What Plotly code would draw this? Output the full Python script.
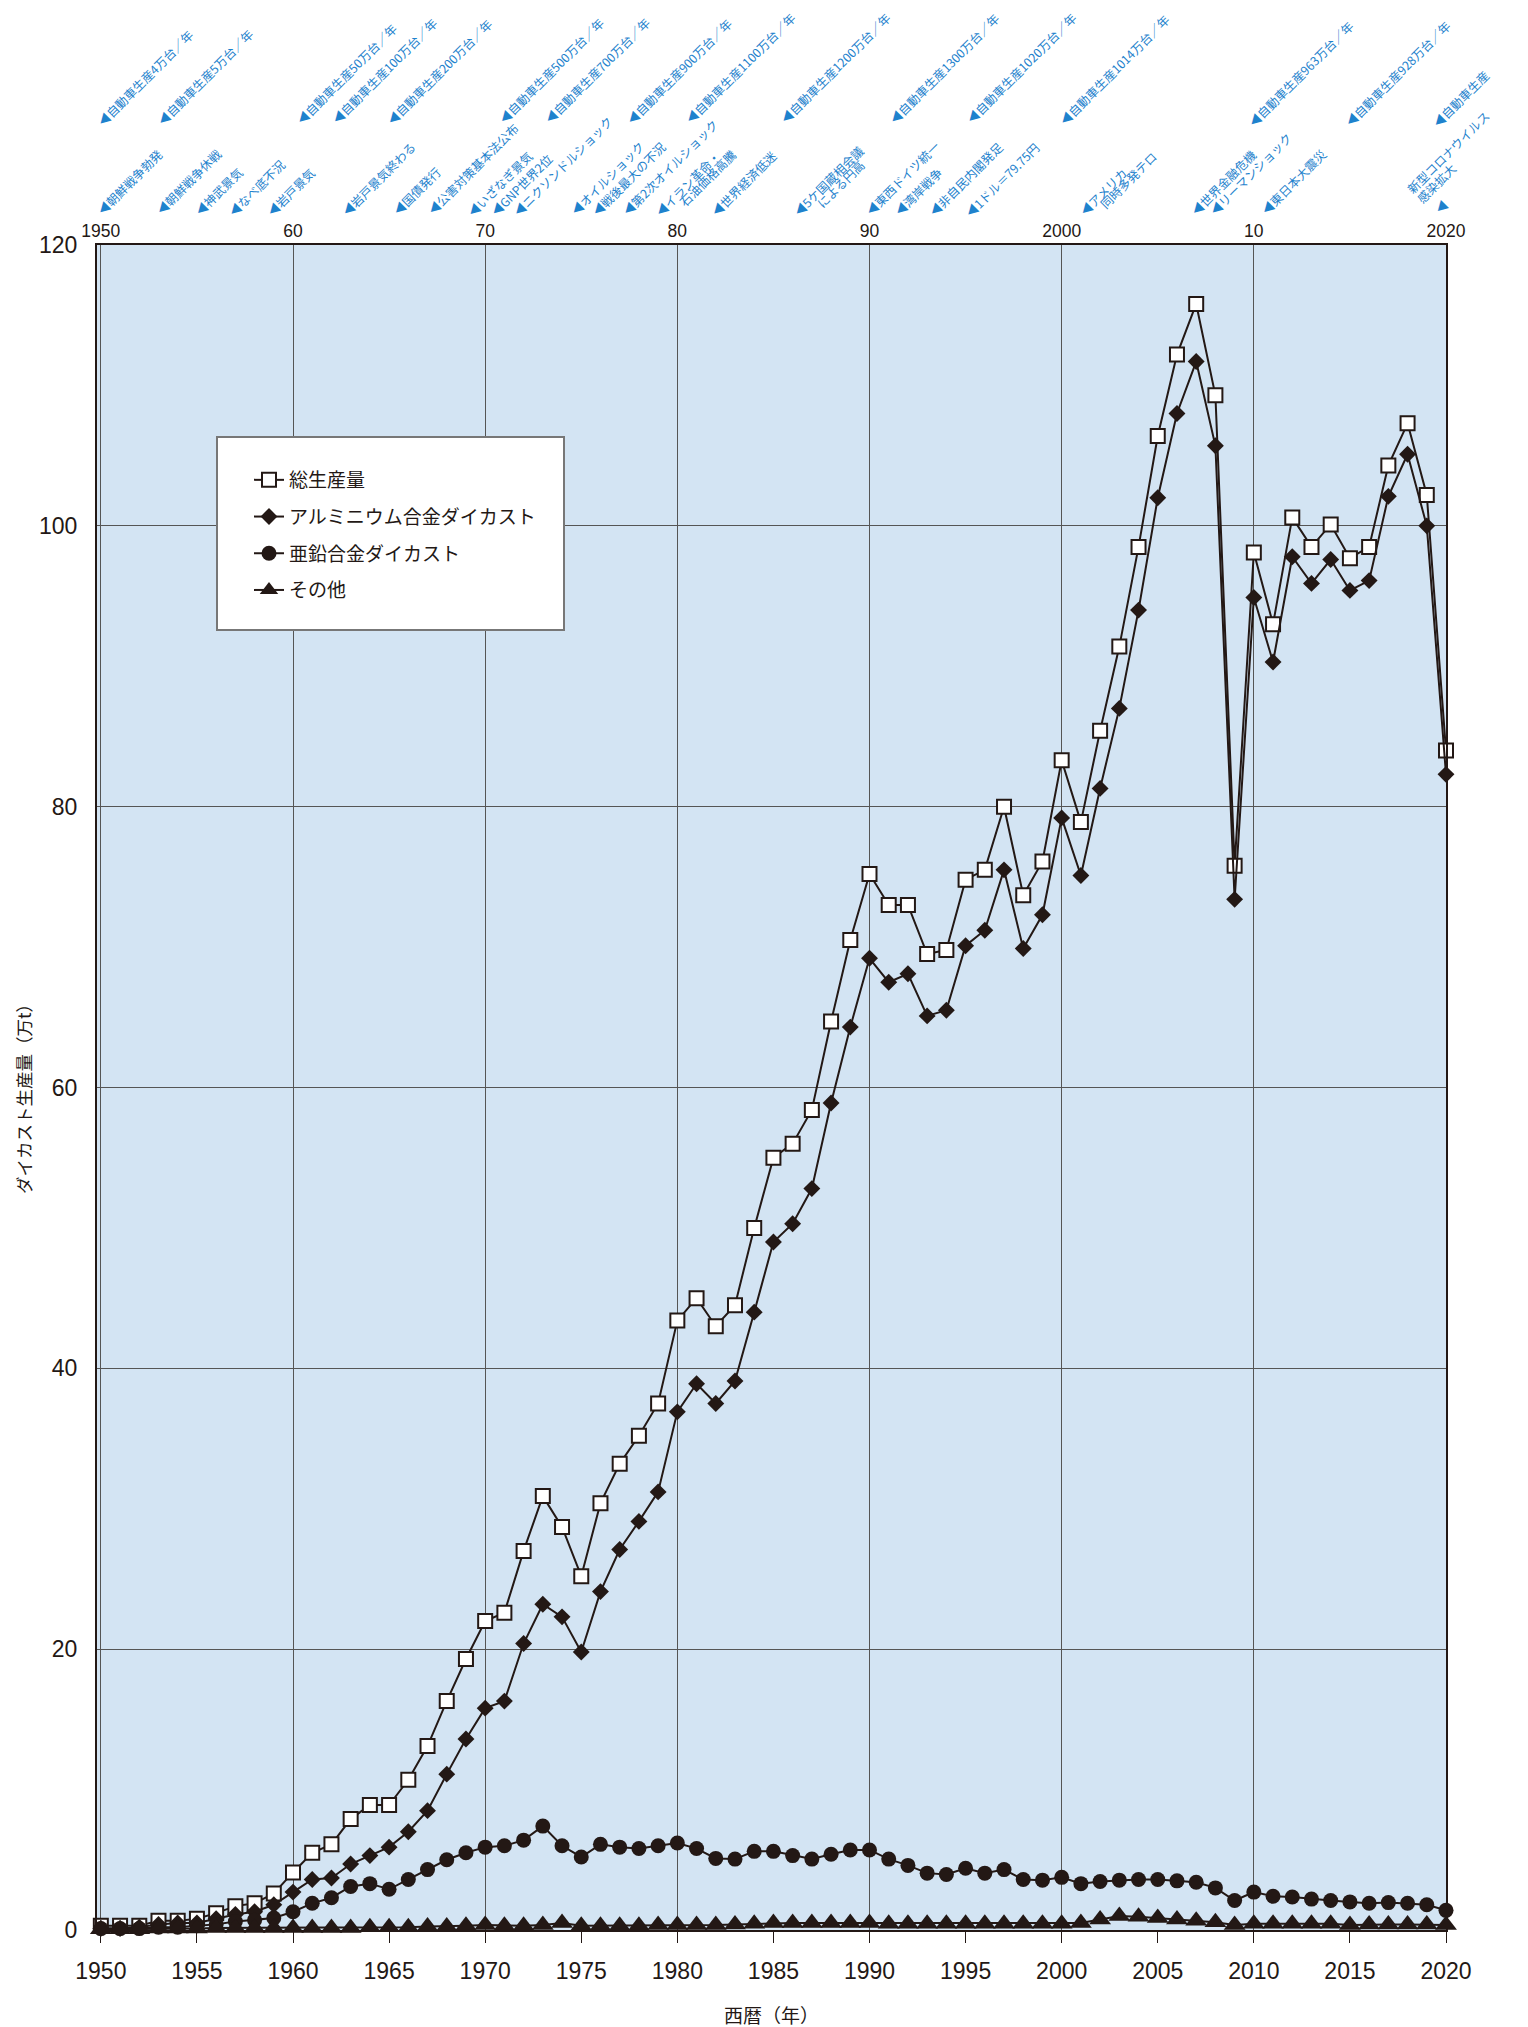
import plotly.graph_objects as go

# ---------------- data ----------------
years = list(range(1950, 2021))

total = [
    0.3, 0.3, 0.3, 0.65, 0.65, 0.8, 1.2, 1.7, 1.9, 2.6,          # 1950s
    4.1, 5.5, 6.1, 7.9, 8.9, 8.9, 10.7, 13.1, 16.3, 19.3,        # 1960s
    22.0, 22.6, 27.0, 30.9, 28.7, 25.2, 30.4, 33.2, 35.2, 37.5,  # 1970s
    43.4, 45.0, 43.0, 44.5, 50.0, 55.0, 56.0, 58.4, 64.7, 70.5,  # 1980s
    75.2, 73.0, 73.0, 69.5, 69.8, 74.8, 75.5, 80.0, 73.7, 76.1,  # 1990s
    83.3, 78.9, 85.4, 91.4, 98.5, 106.4, 112.2, 115.8, 109.3, 75.8,  # 2000s
    98.1, 93.0, 100.6, 98.5, 100.1, 97.7, 98.5, 104.3, 107.3, 102.2,  # 2010s
    84.0,
]
aluminum = [
    0.1, 0.1, 0.2, 0.4, 0.5, 0.5, 0.8, 1.1, 1.3, 1.8,
    2.7, 3.6, 3.7, 4.7, 5.3, 5.9, 7.0, 8.5, 11.1, 13.6,
    15.8, 16.3, 20.4, 23.2, 22.3, 19.8, 24.1, 27.1, 29.1, 31.2,
    36.9, 38.9, 37.5, 39.1, 44.0, 49.0, 50.3, 52.8, 58.9, 64.3,
    69.2, 67.5, 68.1, 65.1, 65.5, 70.1, 71.2, 75.5, 69.9, 72.3,
    79.2, 75.1, 81.3, 87.0, 94.0, 102.0, 108.0, 111.7, 105.7, 73.4,
    94.9, 90.3, 97.8, 95.9, 97.6, 95.4, 96.1, 102.1, 105.1, 100.0,
    82.3,
]
zinc = [
    0.1, 0.1, 0.1, 0.2, 0.2, 0.3, 0.4, 0.6, 0.7, 0.85,
    1.3, 1.9, 2.3, 3.1, 3.3, 2.9, 3.6, 4.3, 5.0, 5.5,
    5.9, 6.0, 6.4, 7.4, 6.0, 5.2, 6.1, 5.9, 5.8, 6.0,
    6.2, 5.8, 5.1, 5.05, 5.6, 5.6, 5.3, 5.05, 5.4, 5.7,
    5.7, 5.05, 4.6, 4.05, 3.95, 4.4, 4.05, 4.3, 3.6, 3.55,
    3.75, 3.3, 3.45, 3.55, 3.6, 3.6, 3.5, 3.4, 3.0, 2.1,
    2.7, 2.4, 2.35, 2.2, 2.1, 2.0, 1.9, 1.95, 1.9, 1.8,
    1.4,
]
others = [
    0.05, 0.05, 0.05, 0.1, 0.1, 0.1, 0.15, 0.15, 0.15, 0.15,
    0.15, 0.15, 0.15, 0.15, 0.2, 0.2, 0.2, 0.25, 0.25, 0.3,
    0.35, 0.3, 0.3, 0.35, 0.5, 0.3, 0.3, 0.3, 0.3, 0.35,
    0.35, 0.35, 0.35, 0.4, 0.45, 0.5, 0.5, 0.5, 0.5, 0.5,
    0.5, 0.45, 0.45, 0.45, 0.45, 0.45, 0.45, 0.45, 0.45, 0.45,
    0.45, 0.5, 0.75, 1.0, 0.95, 0.85, 0.75, 0.65, 0.55, 0.35,
    0.45, 0.45, 0.45, 0.45, 0.45, 0.35, 0.4, 0.4, 0.4, 0.4,
    0.35,
]

series_names = ["総生産量", "アルミニウム合金ダイカスト", "亜鉛合金ダイカスト", "その他"]

bottom_tickvals = list(range(1950, 2021, 5))
top_tickvals = list(range(1950, 2021, 10))
top_ticktext = ["1950", "60", "70", "80", "90", "2000", "10", "2020"]
y_tickvals = list(range(0, 121, 20))

# event labels: (text, x position in page px, y position in page px, kind)
# kind "tip": text begins with the pointer triangle; "start": plain continuation line
events = [
    # upper row: car production
    ("◀自動車生産4万台／年", 100.7, 120, "tip"),
    ("◀自動車生産5万台／年", 161, 119, "tip"),
    ("◀自動車生産50万台／年", 300, 118, "tip"),
    ("◀自動車生産100万台／年", 335, 117, "tip"),
    ("◀自動車生産200万台／年", 390, 118, "tip"),
    ("◀自動車生産500万台／年", 501.7, 117, "tip"),
    ("◀自動車生産700万台／年", 547.3, 117, "tip"),
    ("◀自動車生産900万台／年", 629.3, 118, "tip"),
    ("◀自動車生産1100万台／年", 689, 117, "tip"),
    ("◀自動車生産1200万台／年", 784, 117, "tip"),
    ("◀自動車生産1300万台／年", 892.3, 118, "tip"),
    ("◀自動車生産1020万台／年", 970, 117, "tip"),
    ("◀自動車生産1014万台／年", 1062.7, 119, "tip"),
    ("◀自動車生産963万台／年", 1251.7, 120.7, "tip"),
    ("◀自動車生産928万台／年", 1348.3, 120.7, "tip"),
    ("◀自動車生産", 1435.7, 120.7, "tip"),
    ("807万台／年", 1452.3, 128.3, "start"),
    # lower row: events
    ("◀朝鮮戦争勃発", 100.7, 208.3, "tip"),
    ("◀朝鮮戦争休戦", 159.3, 208.3, "tip"),
    ("◀神武景気", 197.3, 209.3, "tip"),
    ("◀なべ底不況", 231.7, 210, "tip"),
    ("◀岩戸景気", 270, 209.3, "tip"),
    ("◀岩戸景気終わる", 345, 210, "tip"),
    ("◀国債発行", 396, 208.3, "tip"),
    ("◀公害対策基本法公布", 430.7, 208.3, "tip"),
    ("◀いざなぎ景気", 470.7, 210, "tip"),
    ("◀GNP世界2位", 494, 209.3, "tip"),
    ("◀ニクソンドルショック", 516.7, 210, "tip"),
    ("◀オイルショック", 574, 209.3, "tip"),
    ("◀戦後最大の不況", 595, 210, "tip"),
    ("◀第2次オイルショック", 626, 209.3, "tip"),
    ("◀イラン革命・", 658.3, 210, "tip"),
    ("石油価格高騰", 685.7, 206, "start"),
    ("◀世界経済低迷", 714, 210, "tip"),
    ("◀5ケ国蔵相会議", 796.7, 209.3, "tip"),
    ("による円高", 822.7, 207.3, "start"),
    ("◀東西ドイツ統一", 869.3, 209.3, "tip"),
    ("◀湾岸戦争", 897.3, 210, "tip"),
    ("◀非自民内閣発足", 932.3, 210, "tip"),
    ("◀1ドル＝79.75円", 968.3, 210.7, "tip"),
    ("◀アメリカ", 1082.7, 209.3, "tip"),
    ("同時多発テロ", 1106.7, 208.3, "start"),
    ("◀世界金融危機", 1194, 209.3, "tip"),
    ("◀リーマンショック", 1212.7, 209.3, "tip"),
    ("◀東日本大震災", 1264.3, 208.3, "tip"),
    ("新型コロナウイルス", 1413.3, 192.7, "start"),
    ("感染拡大", 1423.3, 202.7, "start"),
    ("◀", 1437.7, 207.3, "tip"),
]

# ---------------- styling ----------------
INK = "#231815"
BLUE = "#1e82cd"
BG = "#d3e4f3"
GRID = "#555555"
JP = "Noto Sans CJK JP, sans-serif"
NUM = "Liberation Sans, Arial, sans-serif"

PAGE_W, PAGE_H = 1528, 2027
BODY = 8                              # default body margin of the html page
W, H = PAGE_W - BODY, PAGE_H - BODY   # figure size
L, R, T, B = 97, 1446, 245, 1930      # plot area in page px
X_RANGE = [1949.8, 2020.0]
PX_PER_YEAR = (R - L) / (X_RANGE[1] - X_RANGE[0])


def px_to_year(px):
    return X_RANGE[0] + (px - L) / PX_PER_YEAR


def px_to_paper_y(py):
    return (B - py) / (B - T)


def px_to_paper_x(px):
    return (px - L) / (R - L)


fig = go.Figure()

styles = [
    dict(symbol="square", size=14, color="white", line=dict(color=INK, width=2)),
    dict(symbol="diamond", size=13, color=INK, line=dict(color=INK, width=0)),
    dict(symbol="circle", size=15, color=INK, line=dict(color=INK, width=0)),
    dict(symbol="triangle-up", size=19, color=INK, line=dict(color=INK, width=0)),
]
for i, (name, vals) in enumerate(zip(series_names, [total, aluminum, zinc, others])):
    fig.add_trace(go.Scatter(
        x=years, y=vals, name=name, mode="lines+markers",
        line=dict(color=INK, width=2),
        marker=styles[i],
        legendgroup=f"g{i}",
        cliponaxis=False,
    ))

# helper trace so that the top axis is materialised
fig.add_trace(go.Scatter(x=years, y=total, xaxis="x2", mode="none",
                         showlegend=False, hoverinfo="skip"))

annotations = []
for text, px, py, kind in events:
    if kind == "tip":
        xs, ys = -10.0, -13.0
    else:
        xs, ys = -13.0, -7.0
    annotations.append(dict(
        text=text, x=px_to_year(px), y=px_to_paper_y(py), xref="x", yref="paper",
        xanchor="left", yanchor="bottom", textangle=-45, showarrow=False,
        xshift=xs, yshift=ys, font=dict(family=JP, size=12.2, color=BLUE),
    ))

# axis titles
annotations.append(dict(
    text="西暦（年）", x=0.5, y=px_to_paper_y(2014), xref="paper", yref="paper",
    xanchor="center", yanchor="middle", showarrow=False,
    font=dict(family=JP, size=19, color=INK),
))
annotations.append(dict(
    text="ダイカスト生産量（万t）", x=px_to_paper_x(23), y=px_to_paper_y(1095),
    xref="paper", yref="paper", xanchor="center", yanchor="middle",
    textangle=-90, showarrow=False, font=dict(family=JP, size=17.5, color=INK),
))

# legend frame
shapes = [dict(
    type="rect", xref="paper", yref="paper",
    x0=px_to_paper_x(217), x1=px_to_paper_x(564),
    y0=px_to_paper_y(630), y1=px_to_paper_y(437),
    fillcolor="white", line=dict(color="#777777", width=2), layer="above",
)]

fig.update_layout(
    width=W, height=H,
    margin=dict(l=L - BODY, r=W - (R - BODY), t=T - BODY, b=H - (B - BODY), pad=0),
    paper_bgcolor="white",
    plot_bgcolor=BG,
    showlegend=True,
    legend=dict(
        x=px_to_paper_x(249), y=px_to_paper_y(461), xanchor="left", yanchor="top",
        bgcolor="rgba(0,0,0,0)", borderwidth=0, tracegroupgap=9,
        font=dict(family=JP, size=19, color=INK),
    ),
    xaxis=dict(
        range=X_RANGE, tickmode="array", tickvals=bottom_tickvals,
        ticks="outside", ticklen=11, tickwidth=1.2, tickcolor=INK,
        showgrid=False, zeroline=False,
        showline=True, linecolor=INK, linewidth=2, mirror=True,
        tickfont=dict(family=NUM, size=23, color=INK),
        ticklabelstandoff=8,
    ),
    xaxis2=dict(
        range=X_RANGE, overlaying="x", side="top", anchor="y",
        tickmode="array", tickvals=top_tickvals, ticktext=top_ticktext,
        ticks="", showgrid=True, gridcolor=GRID, gridwidth=1.2,
        showline=False, zeroline=False,
        tickfont=dict(family=NUM, size=17.5, color=INK),
        ticklabelstandoff=4,
    ),
    yaxis=dict(
        range=[0, 120], tickmode="array", tickvals=y_tickvals,
        ticks="", showgrid=True, gridcolor=GRID, gridwidth=1.2, zeroline=False,
        showline=True, linecolor=INK, linewidth=2, mirror=True,
        tickfont=dict(family=NUM, size=23, color=INK),
        ticklabelstandoff=13,
    ),
    annotations=annotations,
    shapes=shapes,
    hovermode=False,
)

fig.write_html("out.html")
